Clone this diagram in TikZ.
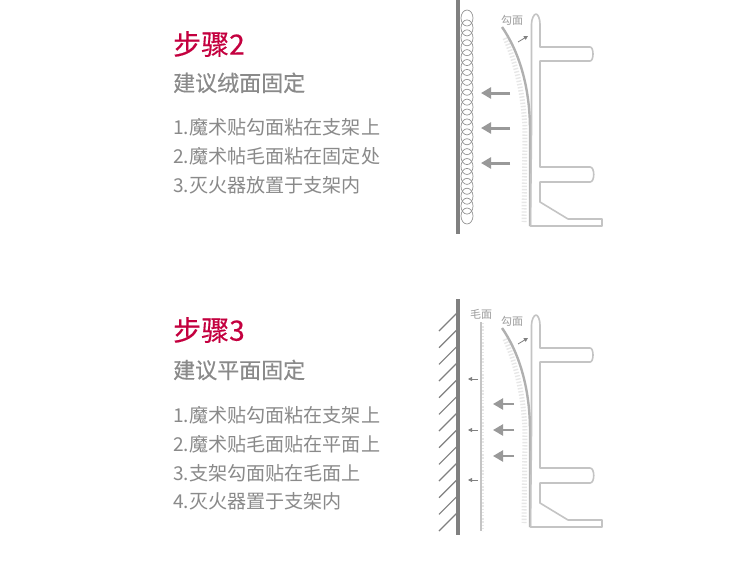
\documentclass[tikz,border=0pt]{standalone}
\usepackage{fontspec}
\setmainfont{Noto Sans CJK SC}
\newfontfamily\medcjk[FakeBold=0.35]{Noto Sans CJK SC}
\definecolor{crim}{HTML}{C4003F}
\definecolor{txt}{HTML}{8A8A8A}
\definecolor{ln}{HTML}{C4C4C4}
\definecolor{wall}{HTML}{808080}
\usetikzlibrary{arrows.meta}
\tikzset{
  stepT/.style={anchor=west,inner sep=0pt,text=crim,font=\medcjk\fontsize{28}{28}\selectfont},
  subT/.style={anchor=west,inner sep=0pt,text=txt,font=\medcjk\fontsize{22}{22}\selectfont},
  bodyT/.style={anchor=west,inner sep=0pt,text=txt,font=\fontsize{19.1}{19.1}\selectfont},
  tinyT/.style={inner sep=0pt,text=txt!85,font=\fontsize{11}{11}\selectfont},
  wallline/.style={draw=wall,line width=4},
  bigarrow/.style={draw=wall!80,line width=3,-{Triangle[length=10pt,width=11pt]}},
  smallarrow/.style={draw=wall,line width=0.8,-{Triangle[length=4pt,width=4pt]}},
  profile/.style={draw=ln,line width=1.6,line join=round},
  hookline/.style={draw=ln!90!black,line width=2.4},
  fuzz/.style={draw=ln!40,line width=5,dash pattern=on 1.4pt off 1.8pt},
  coilline/.style={draw=ln!75!black,line width=0.7},
  bracketpic/.pic={
    \draw[fuzz] (505,38) .. controls (515,60) and (524,95) .. (525,130) -- (524,222);
    \draw[hookline] (502,27) .. controls (518,50) and (530,85) .. (530,130) -- (530,226);
    \draw[profile] (530.5,226) -- (531.5,130) -- (531.5,24) .. controls (531.5,19) and (534,14) .. (536,14)
      .. controls (538,14) and (540,19) .. (540,24) -- (540,47) -- (590,47)
      .. controls (594,47) and (594,61) .. (590,61) -- (540,61) -- (540,167) -- (590,167)
      .. controls (595,167) and (595,182) .. (590,182) -- (540,182) -- (540,202) -- (568,219)
      -- (602,219) -- (602,226) -- cycle;
  }
}
\begin{document}
\begin{tikzpicture}[x=1pt,y=-1pt]
\useasboundingbox (0,0) rectangle (750,584);
\fill[white] (0,0) rectangle (750,584);
% texts
\node[stepT] (s2) at (173,44) {步骤2};
\node[subT] (s2a) at (173,83) {建议绒面固定};
\node[bodyT] (s2b) at (173,127) {1.魔术贴勾面粘在支架上};
\node[bodyT] (s2c) at (173,156) {2.魔术帖毛面粘在固定处};
\node[bodyT] (s2d) at (173,185) {3.灭火器放置于支架内};
\node[stepT] (s3) at (173,330) {步骤3};
\node[subT] (s3a) at (173,370) {建议平面固定};
\node[bodyT] (s3b) at (173,415) {1.魔术贴勾面粘在支架上};
\node[bodyT] (s3c) at (173,444) {2.魔术贴毛面贴在平面上};
\node[bodyT] (s3d) at (173,473) {3.支架勾面贴在毛面上};
\node[bodyT] (s3e) at (173,501) {4.灭火器置于支架内};
% top diagram
\draw[wallline] (458,0) -- (458,234);
\foreach \i in {0,...,20}{
  \draw[coilline] (467,{18+\i*9.9}) ellipse [x radius=6,y radius=8];
}
\pic at (0,0) {bracketpic};
\node[tinyT] (g1) at (512,20) {勾面};
\coordinate (a1s) at (518,42); \coordinate (a1e) at (528,36);
\draw[smallarrow] (a1s) -- (a1e);
\foreach \y/\n in {93/a,128/b,163/c}{
  \coordinate (\n s) at (510,\y); \coordinate (\n e) at (481,\y);
  \draw[bigarrow] (\n s) -- (\n e);
}
% bottom diagram
\draw[wallline] (458,299) -- (458,535);
\foreach \i in {0,...,12}{
  \draw[wall,line width=1.2] (457,{313+\i*16.67}) -- (439,{331+\i*16.67});
}
\draw[fuzz,line width=2.5] (483,323) -- (483,531);
\draw[ln,line width=1.8] (481,322) -- (481,531);
\node[tinyT] (m1) at (481,314) {毛面};
\foreach \y/\n in {379/p,430/q,480/r}{
  \coordinate (\n s) at (478,\y); \coordinate (\n e) at (468,\y);
  \draw[smallarrow] (\n s) -- (\n e);
}
\pic at (0,301) {bracketpic};
\node[tinyT] (g2) at (512,321) {勾面};
\coordinate (a2s) at (518,344); \coordinate (a2e) at (528,338);
\draw[smallarrow] (a2s) -- (a2e);
\foreach \y/\n in {404/t,430/u,456/v}{
  \coordinate (\n s) at (514,\y); \coordinate (\n e) at (493,\y);
  \draw[bigarrow,line width=2.2] (\n s) -- (\n e);
}
\end{tikzpicture}
\end{document}
